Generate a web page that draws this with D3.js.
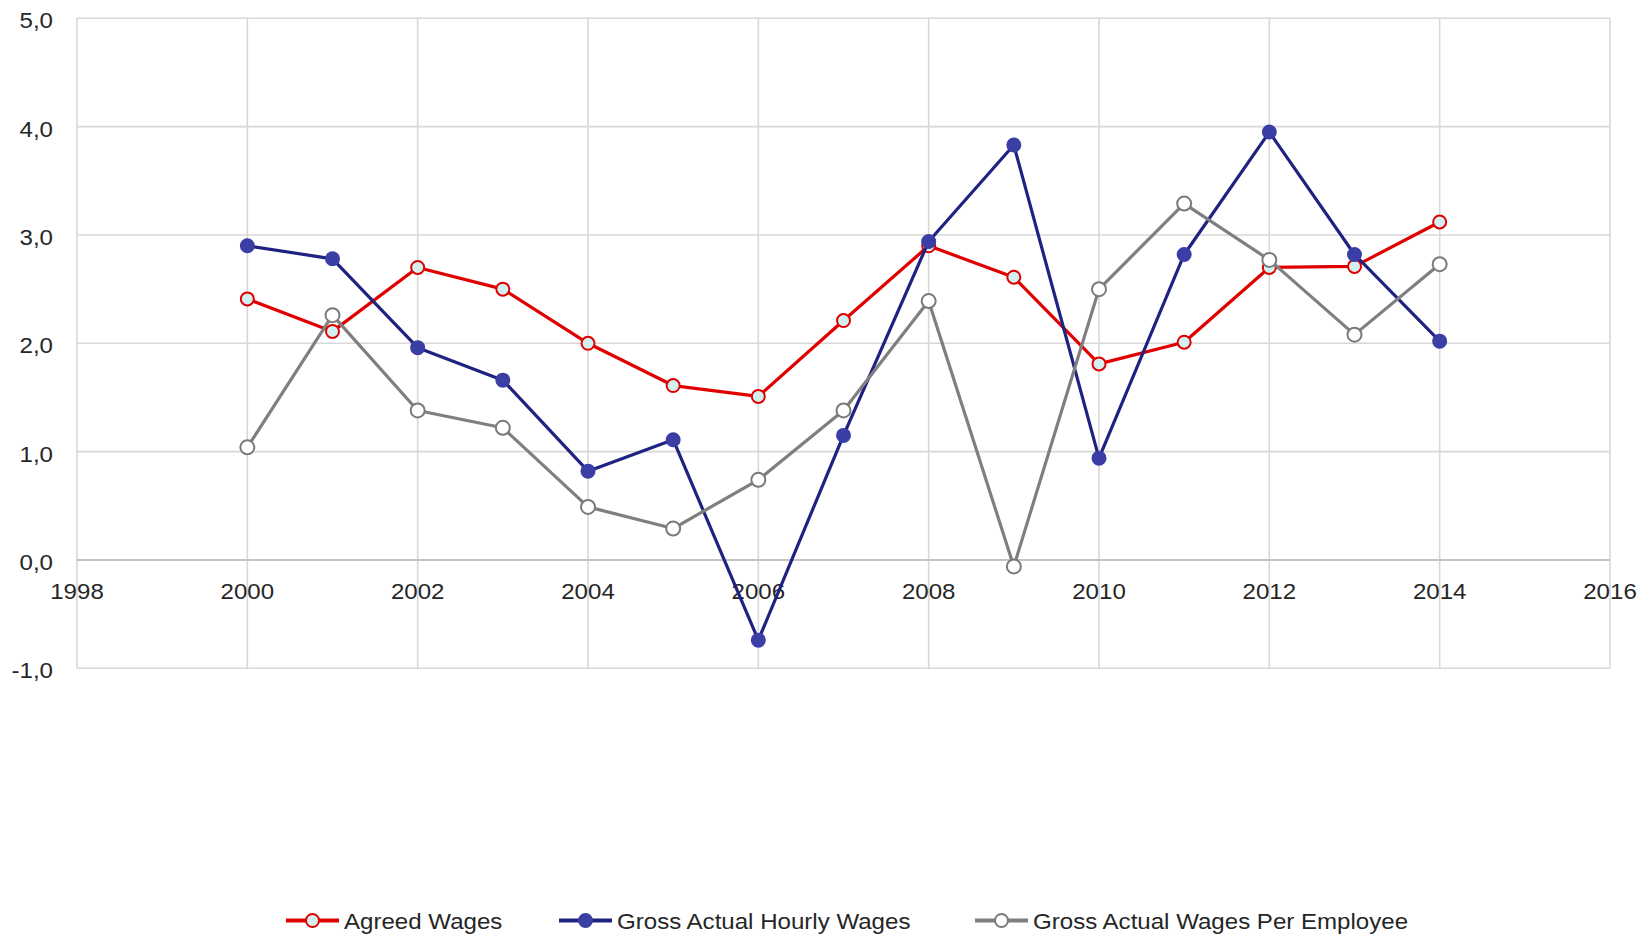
<!DOCTYPE html>
<html>
<head>
<meta charset="utf-8">
<script src="https://cdn.jsdelivr.net/npm/d3@7"></script>
<style>
  html, body { margin: 0; padding: 0; background: #fff; }
  svg { display: block; }
  text { font-family: "Liberation Sans", Arial, sans-serif; fill: #262626; }
</style>
</head>
<body>
<svg id="chart" width="1648" height="934"></svg>
<script>
const years = [2000, 2001, 2002, 2003, 2004, 2005, 2006, 2007, 2008, 2009, 2010, 2011, 2012, 2013, 2014];
const agreedWages = [2.41, 2.11, 2.70, 2.50, 2.00, 1.61, 1.51, 2.21, 2.90, 2.61, 1.81, 2.01, 2.70, 2.71, 3.12];
const grossHourlyWages = [2.90, 2.78, 1.96, 1.66, 0.82, 1.11, -0.74, 1.15, 2.94, 3.83, 0.94, 2.82, 3.95, 2.82, 2.02];
const grossWagesPerEmployee = [1.04, 2.26, 1.38, 1.22, 0.49, 0.29, 0.74, 1.38, 2.39, -0.06, 2.50, 3.29, 2.77, 2.08, 2.73];
const seriesNames = ["Agreed Wages", "Gross Actual Hourly Wages", "Gross Actual Wages Per Employee"];
const xTicks = [1998, 2000, 2002, 2004, 2006, 2008, 2010, 2012, 2014, 2016];
const yTicks = [-1, 0, 1, 2, 3, 4, 5];

const svg = d3.select("#chart");
const x = d3.scaleLinear().domain([1998, 2016]).range([77, 1610]);
const y = d3.scaleLinear().domain([-1, 5]).range([668.3, 18.3]);
const loc = d3.formatLocale({decimal: ",", thousands: ".", grouping: [3], currency: ["", ""], minus: "-"});
const fmt = loc.format(".1f");
const stretch = 1.07;
const fs = 22.5;

const styles = [
  {line: "#e00000", fill: "#d3f0f0", stroke: "#e00000", r: 6.5},
  {line: "#1f2280", fill: "#3a3ea5", stroke: "#3a3ea5", r: 6.5},
  {line: "#7f7f7f", fill: "#ffffff", stroke: "#7a7a7a", r: 7}
];
const allSeries = [agreedWages, grossHourlyWages, grossWagesPerEmployee];

// grid
const grid = svg.append("g");
grid.selectAll("line.v").data(xTicks).join("line")
  .attr("x1", d => x(d)).attr("x2", d => x(d))
  .attr("y1", y(5)).attr("y2", y(-1))
  .attr("stroke", "#d8d8d8").attr("stroke-width", 1.6);
grid.selectAll("line.h").data(yTicks).join("line")
  .attr("x1", x(1998)).attr("x2", x(2016))
  .attr("y1", d => y(d)).attr("y2", d => y(d))
  .attr("stroke", d => d === 0 ? "#c4c4c4" : "#d8d8d8").attr("stroke-width", d => d === 0 ? 2 : 1.6);

// y labels
svg.append("g").selectAll("text").data(yTicks).join("text")
  .attr("transform", d => `translate(53,${y(d) + 10}) scale(${stretch},1)`)
  .attr("text-anchor", "end").attr("font-size", fs)
  .text(d => fmt(d));

// x labels
svg.append("g").selectAll("text").data(xTicks).join("text")
  .attr("transform", d => `translate(${x(d)},${y(0) + 39}) scale(${stretch},1)`)
  .attr("text-anchor", "middle").attr("font-size", fs)
  .text(d => d);

// series
const line = d3.line().x(d => x(d[0])).y(d => y(d[1]));
allSeries.forEach((vals, i) => {
  const pts = years.map((yr, j) => [yr, vals[j]]);
  const g = svg.append("g");
  g.append("path").datum(pts).attr("d", line)
    .attr("fill", "none").attr("stroke", styles[i].line).attr("stroke-width", 3.2)
    .attr("stroke-linejoin", "round");
  g.selectAll("circle").data(pts).join("circle")
    .attr("cx", d => x(d[0])).attr("cy", d => y(d[1])).attr("r", styles[i].r)
    .attr("fill", styles[i].fill).attr("stroke", styles[i].stroke).attr("stroke-width", 2);
});

// legend
const legendX = [286, 559, 975];
const legendY = 920.5;
const lg = svg.append("g");
seriesNames.forEach((name, i) => {
  const g = lg.append("g").attr("transform", `translate(${legendX[i]},${legendY})`);
  g.append("line").attr("x1", 0).attr("x2", 53).attr("y1", 0).attr("y2", 0)
    .attr("stroke", styles[i].line).attr("stroke-width", 4);
  g.append("circle").attr("cx", 26.5).attr("cy", 0).attr("r", 6.5)
    .attr("fill", styles[i].fill).attr("stroke", styles[i].stroke).attr("stroke-width", 2);
  g.append("text").attr("transform", `translate(58,8) scale(${stretch},1)`)
    .attr("font-size", fs).text(name);
});
</script>
</body>
</html>
